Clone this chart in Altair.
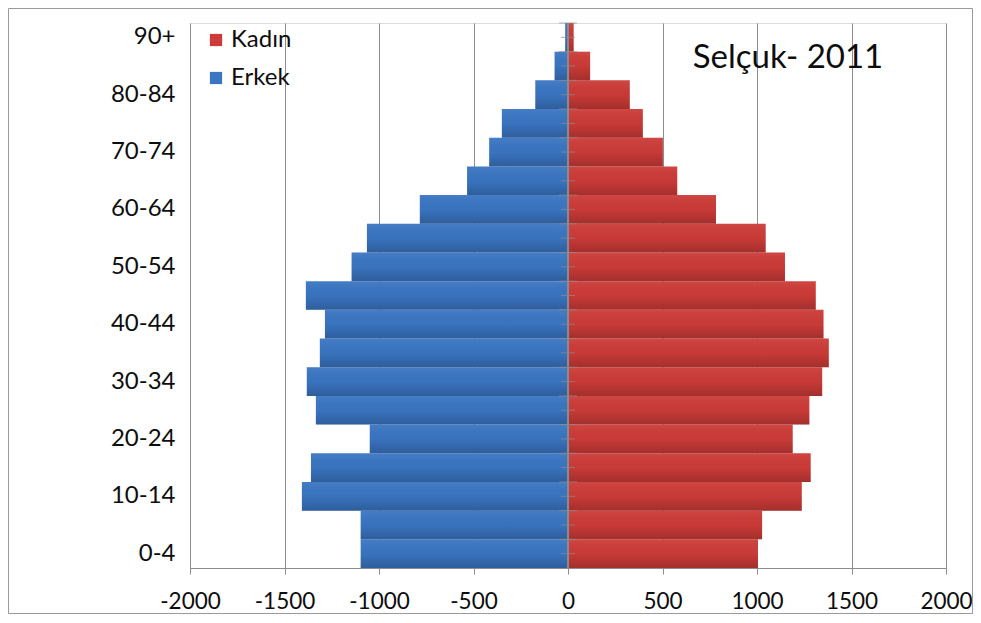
import altair as alt
import pandas as pd

ages = ["90+", "85-89", "80-84", "75-79", "70-74", "65-69", "60-64", "55-59",
        "50-54", "45-49", "40-44", "35-39", "30-34", "25-29", "20-24",
        "15-19", "10-14", "5-9", "0-4"]
erkek = [15, 71, 173, 350, 417, 534, 784, 1064, 1145, 1387, 1286, 1313,
         1382, 1334, 1049, 1360, 1408, 1097, 1097]
kadin = [30, 117, 327, 396, 502, 578, 783, 1046, 1148, 1311, 1352, 1380,
         1345, 1277, 1189, 1284, 1237, 1027, 1005]
shown_labels = ["90+", "80-84", "70-74", "60-64", "50-54", "40-44", "30-34",
                "20-24", "10-14", "0-4"]
x_ticks = [-2000, -1500, -1000, -500, 0, 500, 1000, 1500, 2000]
series = ["Kadın", "Erkek"]
series_colors = ["#cc3b38", "#3a75c2"]
title_text = "Selçuk- 2011"

rows = []
for a, m, f in zip(ages, erkek, kadin):
    rows.append({"age": a, "sex": "Kadın", "value": f})
    rows.append({"age": a, "sex": "Erkek", "value": -m})
df = pd.DataFrame(rows)
age_df = pd.DataFrame({"age": ages})

FONT = "Lato"
GRAY = "#8c8c8c"
TXT = "#0d0d0d"
W, H = 756, 545

xscale = alt.Scale(domain=[-2000, 2000], nice=False, zero=False)
xaxis = alt.Axis(values=x_ticks, labelExpr="'' + datum.value", title=None,
                 grid=True, gridColor=GRAY, gridWidth=1, domainColor=GRAY,
                 tickColor=GRAY, tickSize=6, labelFontSize=22.5, labelFont=FONT,
                 labelColor=TXT, labelPadding=16, labelOverlap=False,
                 labelFlush=False)
yaxis = alt.Axis(values=shown_labels, title=None, ticks=False, domain=False,
                 grid=False, labelFontSize=24, labelFont=FONT,
                 labelColor=TXT, labelPadding=15, labelOverlap=False)
yscale = alt.Scale(paddingInner=0, paddingOuter=0)


def Y(**kw):
    return alt.Y("age:N", sort=ages, scale=yscale, axis=yaxis, **kw)


bars = alt.Chart(df).mark_bar().encode(
    x=alt.X("value:Q", scale=xscale, axis=xaxis, stack=None),
    y=Y(),
    color=alt.Color("sex:N",
                    scale=alt.Scale(domain=series, range=series_colors),
                    legend=alt.Legend(title=None, orient="none", legendX=14,
                                      legendY=5, symbolType="square",
                                      symbolSize=150, symbolStrokeWidth=0,
                                      labelFontSize=24, labelFont=FONT,
                                      labelColor=TXT, rowPadding=14,
                                      labelOffset=3)),
)

shade = alt.Chart(df).mark_bar(
    color=alt.Gradient(
        gradient="linear", x1=0, x2=0, y1=0, y2=1,
        stops=[alt.GradientStop(color="rgba(255,255,255,0.06)", offset=0),
               alt.GradientStop(color="rgba(0,0,0,0.02)", offset=0.5),
               alt.GradientStop(color="rgba(0,0,0,0.2)", offset=1)])
).encode(
    x=alt.X("value:Q", scale=xscale, axis=xaxis, stack=None),
    y=Y(),
)

zero_rule = alt.Chart(age_df).mark_rule(color=GRAY, strokeWidth=1.2).encode(
    x=alt.datum(0, scale=xscale, axis=xaxis),
)

minor_ticks = alt.Chart(age_df).mark_tick(
    orient="horizontal", size=14, thickness=1, color=GRAY
).encode(x=alt.datum(0, scale=xscale, axis=xaxis), y=Y())

major_ticks = alt.Chart(age_df).mark_tick(
    orient="horizontal", size=18, thickness=1, color=GRAY
).encode(x=alt.datum(0, scale=xscale, axis=xaxis), y=Y(bandPosition=0))

title = alt.Chart(pd.DataFrame({"t": [title_text]})).mark_text(
    font=FONT, fontSize=33, color=TXT, align="center", baseline="middle"
).encode(text="t:N", x=alt.value(598), y=alt.value(35))

border = alt.Chart(pd.DataFrame({"t": [0]})).mark_rect(
    fillOpacity=0, stroke="#9a9a9a", strokeWidth=1
).encode(x=alt.value(-181.5), x2=alt.value(782.5), y=alt.value(-14.5),
         y2=alt.value(590.5))

chart = alt.layer(border, bars, shade, zero_rule, minor_ticks, major_ticks,
                  title).properties(
    width=W, height=H,
    autosize=alt.AutoSizeParams(type="none"),
    padding={"left": 182, "top": 15, "right": 27, "bottom": 46},
).configure_view(stroke=None).configure(background="white")

chart.save("out.html", embed_options={"renderer": "svg", "actions": False})
